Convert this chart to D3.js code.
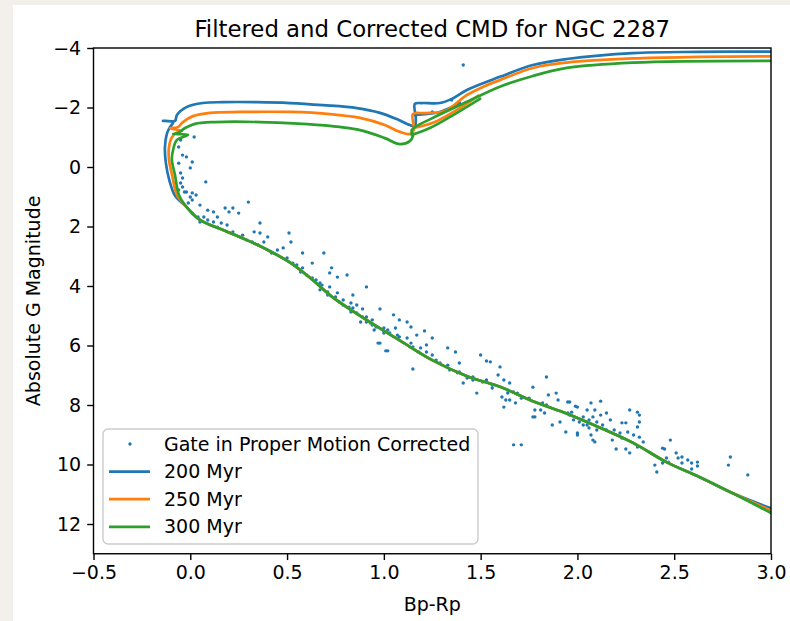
<!DOCTYPE html>
<html>
<head>
<meta charset="utf-8">
<script src="https://cdn.jsdelivr.net/npm/d3@7"></script>
<style>
  html, body { margin: 0; padding: 0; background: #f3f0eb; }
  svg { display: block; font-family: "DejaVu Sans", sans-serif; }
</style>
</head>
<body>
<svg id="chart" width="790" height="621"></svg>
<script>
// star photometry (Bp-Rp colour, absolute G magnitude)
const starBpRp = [1.41,1.25,1.35,0.02,-0.05,-0.06,-0.04,-0.02,-0.06,0.01,0.00,-0.05,-0.04,0.08,-0.04,-0.02,0.01,0.03,0.00,0.30,0.05,0.18,0.22,
  -0.05,-0.06,-0.03,0.01,-0.01,0.20,0.09,0.12,0.25,0.01,0.04,0.07,0.14,0.05,0.09,0.12,0.16,0.19,0.36,0.14,0.22,0.27,0.33,0.36,0.29,0.32,0.40,0.51,0.52,0.35,0.38,0.42,0.45,0.48,0.58,0.69,0.50,0.53,0.55,0.58,0.63,0.57,0.60,0.63,0.65,0.73,0.72,0.76,0.81,0.68,0.72,0.91,0.71,0.75,0.79,0.84,0.83,0.86,0.82,0.89,0.86,0.89,0.91,0.94,0.98,1.00,0.97,1.01,0.95,
  0.76,0.67,0.79,0.83,0.88,0.93,0.96,1.00,0.98,1.02,1.05,1.08,1.12,1.06,1.03,1.08,1.12,1.14,1.17,1.21,1.15,1.18,1.22,1.15,1.25,1.22,1.25,1.33,1.37,1.29,1.34,1.38,1.39,1.43,1.41,1.46,1.50,1.53,1.55,1.60,1.59,1.62,1.56,1.53,1.48,1.64,1.67,1.61,1.65,1.62,1.68,1.77,1.84,1.85,1.89,1.84,1.81,1.78,1.87,1.91,1.95,2.00,1.96,2.03,2.05,2.08,2.06,2.00,2.08,2.06,1.67,1.71,
  1.65,1.64,1.63,1.71,1.77,1.78,1.90,1.82,1.83,1.94,1.96,1.99,1.97,1.95,2.01,2.05,2.00,2.07,2.12,2.09,2.12,2.15,2.10,2.13,2.17,2.15,2.19,2.23,2.25,2.22,2.18,2.09,2.07,2.20,2.23,2.26,2.27,2.31,2.32,2.32,2.31,2.29,2.32,2.34,2.31,2.27,2.25,2.40,2.41,2.44,2.45,2.48,2.46,2.44,2.47,2.51,2.52,2.54,2.54,2.57,2.59,2.59,2.62,2.62,2.79,2.78,2.88,
  0.67,0.71,0.77,0.84,0.91,0.94,1.02,1.07,1.14,1.19,1.27,1.33,1.39,1.46,1.51,1.56,1.69,1.75,1.98,2.03,2.10];
const starG = [-3.43,-1.85,-2.25,-1.01,-0.91,-0.67,-0.40,-0.34,-0.13,-0.17,0.03,0.20,0.37,0.50,0.67,0.84,0.87,0.94,1.01,1.18,1.28,1.38,1.38,
  0.54,0.77,0.84,1.11,1.21,1.51,1.45,1.51,1.55,1.55,1.68,1.68,1.68,1.85,1.78,1.85,1.88,1.95,1.88,2.02,2.18,2.29,2.18,2.22,2.45,2.52,2.35,2.22,2.52,2.62,2.52,2.89,2.79,2.72,2.89,2.89,3.06,3.23,3.29,3.39,3.23,3.53,3.63,3.73,3.80,3.39,3.56,3.70,3.63,3.97,4.03,4.03,4.20,4.37,4.47,4.30,4.57,4.64,4.71,4.77,4.91,5.04,5.21,5.31,4.77,5.41,5.92,6.18,5.48,
  4.23,3.90,4.64,4.87,5.21,5.24,5.38,5.58,5.92,6.18,4.97,5.14,5.21,5.41,5.58,5.71,5.75,5.38,5.65,5.51,6.05,6.22,6.22,6.79,5.75,5.98,6.32,6.08,6.22,6.59,6.82,6.92,6.59,7.09,7.26,7.16,6.32,6.52,6.55,6.72,6.99,7.16,7.43,7.16,7.60,7.50,7.56,7.73,7.83,8.07,7.93,7.40,7.06,7.66,7.60,8.00,8.17,8.40,8.67,8.57,7.90,8.07,8.34,8.40,8.17,8.40,8.50,8.94,9.18,8.77,9.34,9.34,
  7.26,7.60,7.83,7.77,8.40,8.17,7.83,7.93,8.27,8.91,7.90,8.04,8.24,8.27,8.57,8.67,9.01,7.93,7.87,8.17,8.34,8.27,8.57,8.67,8.50,8.84,8.84,8.60,8.60,8.94,9.18,9.24,9.01,9.48,9.11,8.91,8.17,8.24,8.34,8.57,8.74,9.01,9.08,9.24,9.41,9.61,9.48,10.02,10.25,9.45,9.48,9.18,9.78,9.95,9.92,9.61,9.78,9.75,9.95,9.85,9.95,10.15,9.92,10.05,9.75,10.02,10.35,
  4.13,4.30,4.54,4.74,5.04,5.14,5.48,5.65,5.92,6.08,6.49,6.66,6.89,7.06,7.23,7.33,7.60,7.77,8.50,8.67,8.84];

// isochrones: shared lower main sequence
const msColor = [2.80,2.63,2.46,2.29,2.12,1.95,1.77,1.60,1.43,1.25,1.08,0.91,0.74,0.62,0.52,0.40,0.29,0.17,0.05,-0.02];
const msMag   = [10.96,10.42,9.92,9.28,8.77,8.30,7.87,7.39,7.03,6.49,5.82,5.14,4.40,3.73,3.23,2.79,2.45,2.12,1.78,1.34];

// faint end (at Bp-Rp = 3.0) and the upper part of each track
const endMag = [11.47, 11.55, 11.63];
const iso200Color = [-0.080,-0.108,-0.126,-0.131,-0.120,-0.105,-0.089,-0.141,-0.079,-0.069,-0.017,0.065,0.169,0.344,0.515,0.685,0.861,0.980,1.067,1.134,1.160,1.165,1.160,1.196,1.289,1.351,1.429,1.599,1.770,1.945,2.286,2.630,3.000];
const iso200Mag   = [0.95,0.45,-0.13,-0.67,-1.14,-1.34,-1.51,-1.55,-1.55,-1.75,-2.02,-2.15,-2.18,-2.18,-2.15,-2.08,-1.98,-1.82,-1.61,-1.41,-1.38,-1.65,-2.12,-2.15,-2.15,-2.29,-2.59,-3.03,-3.43,-3.63,-3.83,-3.87,-3.88];
const iso250Color = [-0.068,-0.094,-0.110,-0.110,-0.094,-0.064,-0.043,-0.105,-0.064,-0.038,0.014,0.102,0.257,0.515,0.722,0.877,1.005,1.083,1.134,1.155,1.150,1.212,1.315,1.429,1.522,1.599,1.770,1.945,2.286,2.633,3.000];
const iso250Mag   = [0.95,0.27,-0.24,-0.67,-1.01,-1.18,-1.21,-1.31,-1.34,-1.51,-1.71,-1.82,-1.85,-1.85,-1.78,-1.65,-1.41,-1.18,-1.11,-1.24,-1.78,-1.81,-1.88,-2.42,-2.72,-2.92,-3.33,-3.51,-3.65,-3.70,-3.72];
const iso300Color = [-0.058,-0.079,-0.095,-0.089,-0.069,-0.012,-0.089,-0.064,-0.027,0.024,0.128,0.361,0.670,0.877,1.005,1.083,1.134,1.150,1.144,1.253,1.429,1.599,1.770,1.945,2.286,3.000];
const iso300Mag   = [0.95,0.27,-0.24,-0.57,-0.91,-1.08,-1.11,-1.14,-1.31,-1.45,-1.51,-1.51,-1.41,-1.24,-0.97,-0.77,-0.87,-1.04,-1.24,-1.65,-2.19,-2.70,-3.06,-3.33,-3.51,-3.57];

// short helium-burning loops
const loop200Color = [1.160,1.289,1.393];
const loop200Mag   = [-1.75,-1.85,-2.15];
const loop250Color = [1.155,1.263,1.393,1.486];
const loop250Mag   = [-1.31,-1.51,-1.98,-2.39];
const loop300Color = [1.144,1.238,1.367,1.496];
const loop300Mag   = [-1.08,-1.31,-1.78,-2.29];

const ages = ['200 Myr', '250 Myr', '300 Myr'];
const ageColors = ['#1f77b4', '#ff7f0e', '#2ca02c'];
const xTicks = [-0.5, 0.0, 0.5, 1.0, 1.5, 2.0, 2.5, 3.0];
const yTicks = [-4, -2, 0, 2, 4, 6, 8, 10, 12];

const margin = {top: 48, right: 19, bottom: 67.25, left: 93.5};
const svg = d3.select('#chart');
const W = 790, H = 621;
const width = W - margin.left - margin.right;
const height = H - margin.top - margin.bottom;

svg.append('rect').attr('x', 13).attr('y', 5).attr('width', W - 13).attr('height', H - 5).attr('fill', '#ffffff');

const xScale = d3.scaleLinear().domain([-0.5, 3.0]).range([0, width]);
const yScale = d3.scaleLinear().domain([-4, 13]).range([0, height]);

const chart = svg.append('g').attr('transform', `translate(${margin.left},${margin.top})`);

chart.append('clipPath').attr('id', 'clip')
  .append('rect').attr('width', width).attr('height', height);

const plot = chart.append('g').attr('clip-path', 'url(#clip)');

// scatter
const stars = starBpRp.map((c, i) => ({c, g: starG[i]}));
plot.selectAll('.star')
    .data(stars)
  .enter().append('circle')
    .attr('class', 'star')
    .attr('cx', d => xScale(d.c))
    .attr('cy', d => yScale(d.g))
    .attr('r', 1.7)
    .attr('fill', '#1f77b4');

const zip = (xs, ys) => xs.map((x, i) => [x, ys[i]]);
const ms = zip(msColor, msMag);
const uppers = [zip(iso200Color, iso200Mag), zip(iso250Color, iso250Mag), zip(iso300Color, iso300Mag)];
const tracks = uppers.map((u, i) => [[3.0, endMag[i]]].concat(ms, u));
const loops = [zip(loop200Color, loop200Mag), zip(loop250Color, loop250Mag), zip(loop300Color, loop300Mag)];

const line = d3.line()
  .x(d => xScale(d[0]))
  .y(d => yScale(d[1]))
  .curve(d3.curveCatmullRom.alpha(0.5));

tracks.forEach((t, i) => {
  plot.append('path').attr('d', line(loops[i]))
    .attr('fill', 'none').attr('stroke', ageColors[i]).attr('stroke-width', 2.7).attr('stroke-linejoin', 'round').attr('stroke-linecap', 'square');
  plot.append('path').attr('d', line(t))
    .attr('fill', 'none').attr('stroke', ageColors[i]).attr('stroke-width', 2.7).attr('stroke-linejoin', 'round').attr('stroke-linecap', 'square');
});

// axes
const xAxis = d3.axisBottom(xScale).tickValues(xTicks).tickSize(6.3).tickPadding(5)
  .tickFormat(d => d3.format('.1f')(d).replace('-', '\u2212'));
const yAxis = d3.axisLeft(yScale).tickValues(yTicks).tickSize(6.3).tickPadding(6)
  .tickFormat(d => String(d).replace('-', '\u2212'));

const xAxisG = chart.append('g').attr('transform', `translate(0,${height})`).call(xAxis);
const yAxisG = chart.append('g').call(yAxis);
[xAxisG, yAxisG].forEach(g => {
  g.select('.domain').remove();
  g.selectAll('.tick line').attr('stroke', '#000').attr('stroke-width', 1.4);
  g.selectAll('.tick text').attr('fill', '#000').style('font-size', '19px').style('font-family', '"DejaVu Sans", sans-serif');
});

chart.append('rect').attr('width', width).attr('height', height)
  .attr('fill', 'none').attr('stroke', '#000').attr('stroke-width', 1.4);

// titles
svg.append('text').attr('x', margin.left + width / 2).attr('y', 37)
  .attr('text-anchor', 'middle').style('font-size', '22.8px')
  .text('Filtered and Corrected CMD for NGC 2287');
svg.append('text').attr('x', margin.left + width / 2).attr('y', 611)
  .attr('text-anchor', 'middle').style('font-size', '19px').text('Bp-Rp');
svg.append('text').attr('transform', `translate(40,${margin.top + height / 2}) rotate(-90)`)
  .attr('text-anchor', 'middle').style('font-size', '19px').text('Absolute G Magnitude');

// legend
const legend = svg.append('g').attr('transform', 'translate(103,429)');
legend.append('rect').attr('width', 375).attr('height', 115).attr('rx', 5)
  .attr('fill', '#fff').attr('fill-opacity', 0.8).attr('stroke', '#cccccc').attr('stroke-width', 1.4);
const entries = ['Gate in Proper Motion Corrected'].concat(ages);
entries.forEach((name, i) => {
  const y = 15 + i * 27.6;
  if (i === 0) {
    legend.append('circle').attr('cx', 27).attr('cy', y).attr('r', 1.7).attr('fill', '#1f77b4');
  } else {
    legend.append('line').attr('x1', 6).attr('x2', 47).attr('y1', y).attr('y2', y)
      .attr('stroke', ageColors[i - 1]).attr('stroke-width', 2.7);
  }
  legend.append('text').attr('x', 61).attr('y', y).attr('dy', '0.35em')
    .style('font-size', '19px').text(name);
});
</script>
</body>
</html>
